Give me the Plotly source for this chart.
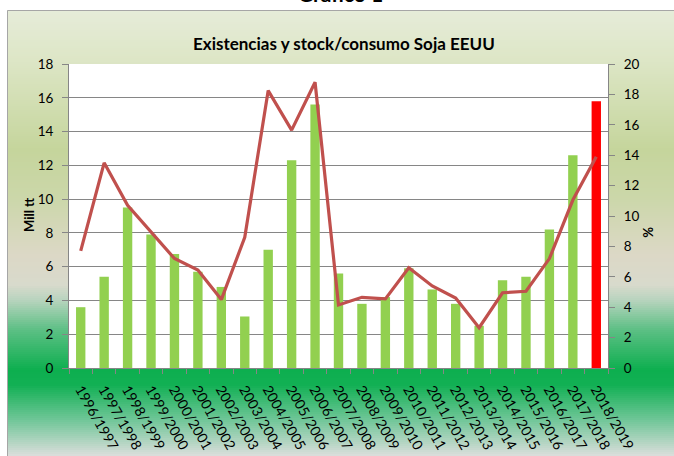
import plotly.graph_objects as go

# ---------------- data ----------------
campanas = ["1996/1997", "1997/1998", "1998/1999", "1999/2000", "2000/2001", "2001/2002",
            "2002/2003", "2003/2004", "2004/2005", "2005/2006", "2006/2007", "2007/2008",
            "2008/2009", "2009/2010", "2010/2011", "2011/2012", "2012/2013", "2013/2014",
            "2014/2015", "2015/2016", "2016/2017", "2017/2018", "2018/2019"]
existencias = [3.6, 5.4, 9.5, 7.9, 6.75, 5.7, 4.8, 3.05, 7.0, 12.3, 15.6, 5.6,
               3.8, 4.2, 5.9, 4.65, 3.8, 2.5, 5.2, 5.4, 8.2, 12.6, 15.8]
stock_consumo = [7.7, 13.5, 10.7, 8.95, 7.2, 6.45, 4.5, 8.6, 18.25, 15.65, 18.8, 4.15,
                 4.65, 4.55, 6.6, 5.4, 4.6, 2.65, 4.95, 5.05, 7.2, 11.05, 13.9]
y_left_ticks = list(range(0, 19, 2))
y_right_ticks = list(range(0, 21, 2))

bar_colors = ["#92D050"] * (len(campanas) - 1) + ["#FF0000"]

# ---------------- layout geometry (pixels) ----------------
W, H = 674, 456
L, R, T, B = 69, 608, 64, 368
pw, ph = R - L, B - T

def px_x(x):
    return (x - L) / pw

def px_y(y):
    return (B - y) / ph

def hex2rgb(h):
    h = h.lstrip("#")
    return tuple(int(h[i:i + 2], 16) for i in (0, 2, 4))

stops = [(10, "#E6ECD9"), (60, "#DDE6C6"), (150, "#C5D59C"), (200, "#CCD7AA"),
         (255, "#DCD8C6"), (285, "#D8DACC"), (300, "#B8D4BE"), (330, "#5CBF84"),
         (370, "#0DAF4F"), (385, "#12B054"), (420, "#70C698"), (456, "#DCDEDC")]

def grad_color(y):
    for (y0, c0), (y1, c1) in zip(stops[:-1], stops[1:]):
        if y0 <= y <= y1:
            t = (y - y0) / (y1 - y0)
            a, b = hex2rgb(c0), hex2rgb(c1)
            r = [round(a[i] + (b[i] - a[i]) * t) for i in range(3)]
            return "rgb(%d,%d,%d)" % tuple(r)
    return stops[-1][1]

shapes = []
step = 2
y = 10
while y < H:
    shapes.append(dict(type="rect", xref="paper", yref="paper", layer="below",
                       x0=px_x(7), x1=px_x(700), y0=px_y(y + step + 0.5), y1=px_y(y),
                       fillcolor=grad_color(y + step / 2), line=dict(width=0)))
    y += step
# frame border
shapes.append(dict(type="rect", xref="paper", yref="paper", layer="below",
                   x0=px_x(7.5), x1=px_x(700), y0=px_y(480), y1=px_y(10.5),
                   fillcolor="rgba(0,0,0,0)", line=dict(color="#A6A6A6", width=1)))
# white plot area
shapes.append(dict(type="rect", xref="paper", yref="paper", layer="below",
                   x0=0, x1=1, y0=0, y1=1, fillcolor="white", line=dict(width=0)))

fig = go.Figure()
fig.add_trace(go.Bar(x=campanas, y=existencias, marker=dict(color=bar_colors, line=dict(width=0)),
                     yaxis="y", name="Existencias"))
fig.add_trace(go.Scatter(x=campanas, y=stock_consumo, mode="lines", yaxis="y2",
                         line=dict(color="#C0504D", width=3.2), name="Stock/consumo"))

font_family = "Lato, 'Open Sans', sans-serif"
axis_col = "#868686"

fig.update_layout(
    width=W, height=H,
    margin=dict(l=L, r=W - R, t=T, b=H - B, autoexpand=False),
    paper_bgcolor="white", plot_bgcolor="white",
    showlegend=False, bargap=0.6,
    font=dict(family=font_family, size=13, color="#000000"),
    shapes=shapes,
    xaxis=dict(type="category", tickangle=60, tickson="boundaries", ticks="outside",
               ticklen=5, tickcolor=axis_col, showline=True, linecolor=axis_col, linewidth=1,
               showgrid=False, automargin=False, ticklabelstandoff=7,
               tickfont=dict(size=14, color="#000")),
    yaxis=dict(range=[0, 18], tickvals=y_left_ticks, ticks="outside", ticklen=6, tickcolor=axis_col,
               showline=True, linecolor=axis_col, linewidth=1, showgrid=True, gridcolor=axis_col,
               gridwidth=1.2, zeroline=False, automargin=False, ticklabelstandoff=6,
               tickfont=dict(size=13.5, color="#000")),
    yaxis2=dict(range=[0, 20], tickvals=y_right_ticks, overlaying="y", side="right", ticks="outside",
                ticklen=6, tickcolor=axis_col, showline=True, linecolor=axis_col, linewidth=1,
                showgrid=False, zeroline=False, automargin=False, ticklabelstandoff=6,
                tickfont=dict(size=13.5, color="#000")),
    annotations=[
        dict(text="<b>Existencias y stock/consumo Soja EEUU</b>", xref="paper", yref="paper",
             x=px_x(344), y=px_y(44), xanchor="center", yanchor="middle", showarrow=False,
             font=dict(size=17, family=font_family, color="#000")),
        dict(text="<b>Mill tt</b>", xref="paper", yref="paper", x=px_x(29), y=px_y(215),
             xanchor="center", yanchor="middle", textangle=-90, showarrow=False,
             font=dict(size=13, family=font_family, color="#000")),
        dict(text="<b>%</b>", xref="paper", yref="paper", x=px_x(648), y=px_y(232),
             xanchor="center", yanchor="middle", textangle=90, showarrow=False,
             font=dict(size=13, family=font_family, color="#000")),
        dict(text="<b>Gráfico 1</b>", xref="paper", yref="paper", x=px_x(340), y=px_y(8),
             xanchor="center", yanchor="bottom", showarrow=False,
             font=dict(size=21, family=font_family, color="#000")),
    ],
)

fig.write_html("out.html", config={"displayModeBar": False},
               post_script="document.body.style.margin='0px';document.body.style.overflow='hidden';")
